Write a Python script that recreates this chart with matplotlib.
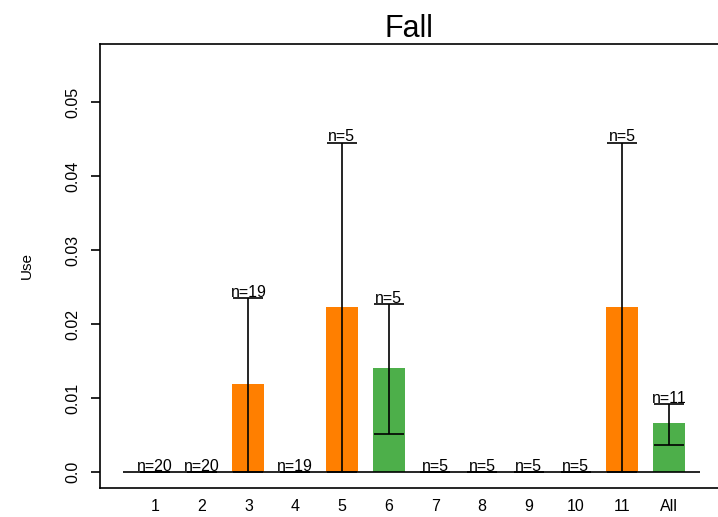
import matplotlib
matplotlib.use('Agg')
import matplotlib.pyplot as plt
import numpy as np

plt.rcParams['font.family'] = ['Liberation Sans', 'DejaVu Sans']

# values
groups = ['1', '2', '3', '4', '5', '6', '7', '8', '9', '10', '11', 'All']
use = [0, 0, 0.0119, 0, 0.0223, 0.0140, 0, 0, 0, 0, 0.0223, 0.0066]
upper = [0, 0, 0.0235, 0, 0.0445, 0.0227, 0, 0, 0, 0, 0.0445, 0.0092]
lower = [0, 0, 0, 0, 0, 0.0051, 0, 0, 0, 0, 0, 0.0036]
counts = [20, 20, 19, 19, 5, 5, 5, 5, 5, 5, 5, 11]
bar_colors = ['#FF7F00', '#FF7F00', '#FF7F00', '#FF7F00', '#FF7F00', '#4DAF4A',
              '#FF7F00', '#FF7F00', '#FF7F00', '#FF7F00', '#FF7F00', '#4DAF4A']

x = np.arange(1, len(groups) + 1)

fig = plt.figure(figsize=(7.18, 5.17), dpi=100)
ax = fig.add_axes([0.1393, 0.0561, 0.8607, 0.8588])

ax.bar(x, use, width=0.685, color=bar_colors, zorder=2)
ax.hlines(0, x[0] - 0.685, x[-1] + 0.66, color='black', lw=1.2, zorder=3)

use_a = np.array(use)
err = [use_a - np.array(lower), np.array(upper) - use_a]
ax.errorbar(x, use, yerr=err, fmt='none', ecolor='black', elinewidth=1.2,
            capsize=10.8, capthick=1.2, zorder=4)

for xi, top, n in zip(x, upper, counts):
    ax.annotate(f'n={n}', (xi, top), xytext=(0, 1), textcoords='offset points',
                ha='center', va='baseline', fontsize=11.5)

ax.set_xlim(x[0] - 1.177, x[-1] + 1.05)
ax.set_ylim(-0.00216, 0.05784)
ax.set_xticks(x)
ax.set_xticklabels(groups, fontsize=11.5)
ax.tick_params(axis='x', length=0, pad=8)
ax.set_yticks([0, 0.01, 0.02, 0.03, 0.04, 0.05])
ax.set_yticklabels(['0.0', '0.01', '0.02', '0.03', '0.04', '0.05'], rotation=90,
                   va='center', fontsize=11.5)
ax.tick_params(axis='y', length=6.5, width=1.2, pad=8)

for side in ['left', 'bottom', 'top']:
    ax.spines[side].set_linewidth(1.2)
ax.spines['right'].set_visible(False)

ax.set_ylabel('Use', fontsize=11, labelpad=22)
ax.set_title('Fall', fontsize=22, pad=4)

fig.savefig('out.png', dpi=100)
